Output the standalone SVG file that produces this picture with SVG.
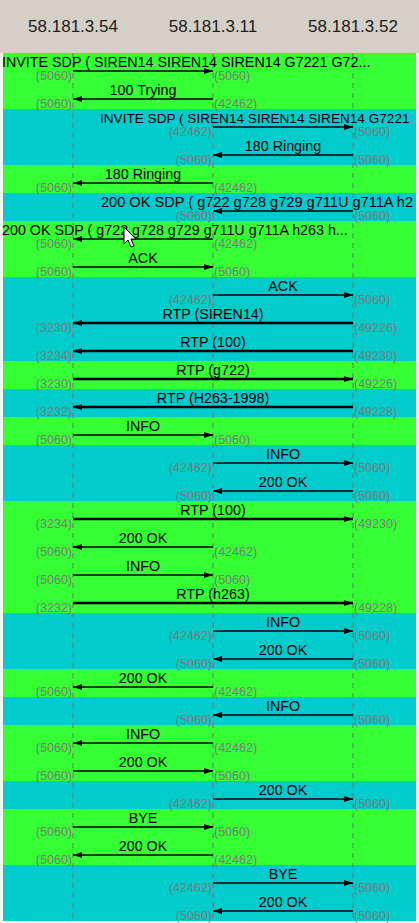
<svg xmlns="http://www.w3.org/2000/svg" width="419" height="923" viewBox="0 0 419 923">
<style>
.hdr{font-family:"Liberation Sans",Arial,sans-serif;font-size:17px;fill:#202020;text-anchor:middle}
.g{fill:#33ff33}.c{fill:#00cccc}
.life{stroke:#707070;stroke-width:1;stroke-dasharray:5 5}
.lbl{font-family:"Liberation Sans",Arial,sans-serif;font-size:14.3px;fill:#000;text-anchor:middle}
.st{text-anchor:start}
.pl,.pr{font-family:"Liberation Sans",Arial,sans-serif;font-size:12.5px;fill:#7a7a7a}
.pl{text-anchor:end}.pr{text-anchor:start}
line.a{stroke:#000;stroke-width:1.3;marker-end:url(#ah)}
line.t{stroke:#000;stroke-width:2.6;marker-end:url(#ah)}
</style>
<defs>
<marker id="ah" markerUnits="userSpaceOnUse" markerWidth="10" markerHeight="8" refX="9" refY="4" orient="auto"><path d="M0,1 L9,4 L0,7 Z" fill="#000"/></marker>
</defs>
<rect x="0" y="0" width="419" height="923" fill="#f6f6f6"/>
<rect x="0" y="0" width="419" height="53" fill="#d4d0c8"/>
<g id="bands">
<rect class="g" x="3" y="53" width="413" height="56"/>
<rect class="c" x="3" y="109" width="413" height="56"/>
<rect class="g" x="3" y="165" width="413" height="28"/>
<rect class="c" x="3" y="193" width="413" height="28"/>
<rect class="g" x="3" y="221" width="413" height="56"/>
<rect class="c" x="3" y="277" width="413" height="84"/>
<rect class="g" x="3" y="361" width="413" height="28"/>
<rect class="c" x="3" y="389" width="413" height="28"/>
<rect class="g" x="3" y="417" width="413" height="28"/>
<rect class="c" x="3" y="445" width="413" height="56"/>
<rect class="g" x="3" y="501" width="413" height="112"/>
<rect class="c" x="3" y="613" width="413" height="56"/>
<rect class="g" x="3" y="669" width="413" height="28"/>
<rect class="c" x="3" y="697" width="413" height="28"/>
<rect class="g" x="3" y="725" width="413" height="56"/>
<rect class="c" x="3" y="781" width="413" height="28"/>
<rect class="g" x="3" y="809" width="413" height="56"/>
<rect class="c" x="3" y="865" width="413" height="56"/>
</g>
<g id="n1"><text class="hdr" x="73" y="32">58.181.3.54</text><line class="life" x1="73" y1="53" x2="73" y2="923"/></g>
<g id="n2"><text class="hdr" x="213" y="32">58.181.3.11</text><line class="life" x1="213" y1="53" x2="213" y2="923"/></g>
<g id="n3"><text class="hdr" x="353" y="32">58.181.3.52</text><line class="life" x1="353" y1="53" x2="353" y2="923"/></g>
<g id="connectors">
<g id="m1"><line class="a" x1="73" y1="71" x2="213" y2="71"/><text class="lbl st" x="2" y="67">INVITE SDP ( SIREN14 SIREN14 SIREN14 G7221 G72...</text><text class="pl" x="72" y="80">(5060)</text><text class="pr" x="214" y="80">(5060)</text></g>
<g id="m2"><line class="a" x1="213" y1="99" x2="73" y2="99"/><text class="lbl" x="143" y="95">100 Trying</text><text class="pl" x="72" y="108">(5060)</text><text class="pr" x="214" y="108">(42462)</text></g>
<g id="m3"><line class="a" x1="213" y1="127" x2="353" y2="127"/><text class="lbl st" x="100" y="123" style="font-size:13.6px">INVITE SDP ( SIREN14 SIREN14 SIREN14 G7221</text><text class="pl" x="212" y="136">(42462)</text><text class="pr" x="354" y="136">(5060)</text></g>
<g id="m4"><line class="a" x1="353" y1="155" x2="213" y2="155"/><text class="lbl" x="283" y="151">180 Ringing</text><text class="pl" x="212" y="164">(5060)</text><text class="pr" x="354" y="164">(5060)</text></g>
<g id="m5"><line class="a" x1="213" y1="183" x2="73" y2="183"/><text class="lbl" x="143" y="179">180 Ringing</text><text class="pl" x="72" y="192">(5060)</text><text class="pr" x="214" y="192">(42462)</text></g>
<g id="m6"><line class="a" x1="353" y1="211" x2="213" y2="211"/><text class="lbl st" x="101" y="207" textLength="312" lengthAdjust="spacingAndGlyphs">200 OK SDP ( g722 g728 g729 g711U g711A h2</text><text class="pl" x="212" y="220">(5060)</text><text class="pr" x="354" y="220">(5060)</text></g>
<g id="m7"><line class="a" x1="213" y1="239" x2="73" y2="239"/><text class="lbl st" x="2" y="235">200 OK SDP ( g722 g728 g729 g711U g711A h263 h...</text><text class="pl" x="72" y="248">(5060)</text><text class="pr" x="214" y="248">(42462)</text></g>
<g id="m8"><line class="a" x1="73" y1="267" x2="213" y2="267"/><text class="lbl" x="143" y="263">ACK</text><text class="pl" x="72" y="276">(5060)</text><text class="pr" x="214" y="276">(5060)</text></g>
<g id="m9"><line class="a" x1="213" y1="295" x2="353" y2="295"/><text class="lbl" x="283" y="291">ACK</text><text class="pl" x="212" y="304">(42462)</text><text class="pr" x="354" y="304">(5060)</text></g>
<g id="m10"><line class="t" x1="353" y1="323" x2="73" y2="323"/><text class="lbl" x="213" y="319">RTP (SIREN14)</text><text class="pl" x="72" y="332">(3230)</text><text class="pr" x="354" y="332">(49226)</text></g>
<g id="m11"><line class="t" x1="353" y1="351" x2="73" y2="351"/><text class="lbl" x="213" y="347">RTP (100)</text><text class="pl" x="72" y="360">(3234)</text><text class="pr" x="354" y="360">(49230)</text></g>
<g id="m12"><line class="t" x1="73" y1="379" x2="353" y2="379"/><text class="lbl" x="213" y="375">RTP (g722)</text><text class="pl" x="72" y="388">(3230)</text><text class="pr" x="354" y="388">(49226)</text></g>
<g id="m13"><line class="t" x1="353" y1="407" x2="73" y2="407"/><text class="lbl" x="213" y="403">RTP (H263-1998)</text><text class="pl" x="72" y="416">(3232)</text><text class="pr" x="354" y="416">(49228)</text></g>
<g id="m14"><line class="a" x1="73" y1="435" x2="213" y2="435"/><text class="lbl" x="143" y="431">INFO</text><text class="pl" x="72" y="444">(5060)</text><text class="pr" x="214" y="444">(5060)</text></g>
<g id="m15"><line class="a" x1="213" y1="463" x2="353" y2="463"/><text class="lbl" x="283" y="459">INFO</text><text class="pl" x="212" y="472">(42462)</text><text class="pr" x="354" y="472">(5060)</text></g>
<g id="m16"><line class="a" x1="353" y1="491" x2="213" y2="491"/><text class="lbl" x="283" y="487">200 OK</text><text class="pl" x="212" y="500">(5060)</text><text class="pr" x="354" y="500">(5060)</text></g>
<g id="m17"><line class="t" x1="73" y1="519" x2="353" y2="519"/><text class="lbl" x="213" y="515">RTP (100)</text><text class="pl" x="72" y="528">(3234)</text><text class="pr" x="354" y="528">(49230)</text></g>
<g id="m18"><line class="a" x1="213" y1="547" x2="73" y2="547"/><text class="lbl" x="143" y="543">200 OK</text><text class="pl" x="72" y="556">(5060)</text><text class="pr" x="214" y="556">(42462)</text></g>
<g id="m19"><line class="a" x1="73" y1="575" x2="213" y2="575"/><text class="lbl" x="143" y="571">INFO</text><text class="pl" x="72" y="584">(5060)</text><text class="pr" x="214" y="584">(5060)</text></g>
<g id="m20"><line class="t" x1="73" y1="603" x2="353" y2="603"/><text class="lbl" x="213" y="599">RTP (h263)</text><text class="pl" x="72" y="612">(3232)</text><text class="pr" x="354" y="612">(49228)</text></g>
<g id="m21"><line class="a" x1="213" y1="631" x2="353" y2="631"/><text class="lbl" x="283" y="627">INFO</text><text class="pl" x="212" y="640">(42462)</text><text class="pr" x="354" y="640">(5060)</text></g>
<g id="m22"><line class="a" x1="353" y1="659" x2="213" y2="659"/><text class="lbl" x="283" y="655">200 OK</text><text class="pl" x="212" y="668">(5060)</text><text class="pr" x="354" y="668">(5060)</text></g>
<g id="m23"><line class="a" x1="213" y1="687" x2="73" y2="687"/><text class="lbl" x="143" y="683">200 OK</text><text class="pl" x="72" y="696">(5060)</text><text class="pr" x="214" y="696">(42462)</text></g>
<g id="m24"><line class="a" x1="353" y1="715" x2="213" y2="715"/><text class="lbl" x="283" y="711">INFO</text><text class="pl" x="212" y="724">(5060)</text><text class="pr" x="354" y="724">(5060)</text></g>
<g id="m25"><line class="a" x1="213" y1="743" x2="73" y2="743"/><text class="lbl" x="143" y="739">INFO</text><text class="pl" x="72" y="752">(5060)</text><text class="pr" x="214" y="752">(42462)</text></g>
<g id="m26"><line class="a" x1="73" y1="771" x2="213" y2="771"/><text class="lbl" x="143" y="767">200 OK</text><text class="pl" x="72" y="780">(5060)</text><text class="pr" x="214" y="780">(5060)</text></g>
<g id="m27"><line class="a" x1="213" y1="799" x2="353" y2="799"/><text class="lbl" x="283" y="795">200 OK</text><text class="pl" x="212" y="808">(42462)</text><text class="pr" x="354" y="808">(5060)</text></g>
<g id="m28"><line class="a" x1="73" y1="827" x2="213" y2="827"/><text class="lbl" x="143" y="823">BYE</text><text class="pl" x="72" y="836">(5060)</text><text class="pr" x="214" y="836">(5060)</text></g>
<g id="m29"><line class="a" x1="213" y1="855" x2="73" y2="855"/><text class="lbl" x="143" y="851">200 OK</text><text class="pl" x="72" y="864">(5060)</text><text class="pr" x="214" y="864">(42462)</text></g>
<g id="m30"><line class="a" x1="213" y1="883" x2="353" y2="883"/><text class="lbl" x="283" y="879">BYE</text><text class="pl" x="212" y="892">(42462)</text><text class="pr" x="354" y="892">(5060)</text></g>
<g id="m31"><line class="a" x1="353" y1="911" x2="213" y2="911"/><text class="lbl" x="283" y="907">200 OK</text><text class="pl" x="212" y="920">(5060)</text><text class="pr" x="354" y="920">(5060)</text></g>
</g>
<path id="cursor" d="M124,227 L124,244 L128,240 L131,247 L134,246 L131,239 L136,239 Z" fill="#fff" stroke="#000" stroke-width="1"/>
</svg>
